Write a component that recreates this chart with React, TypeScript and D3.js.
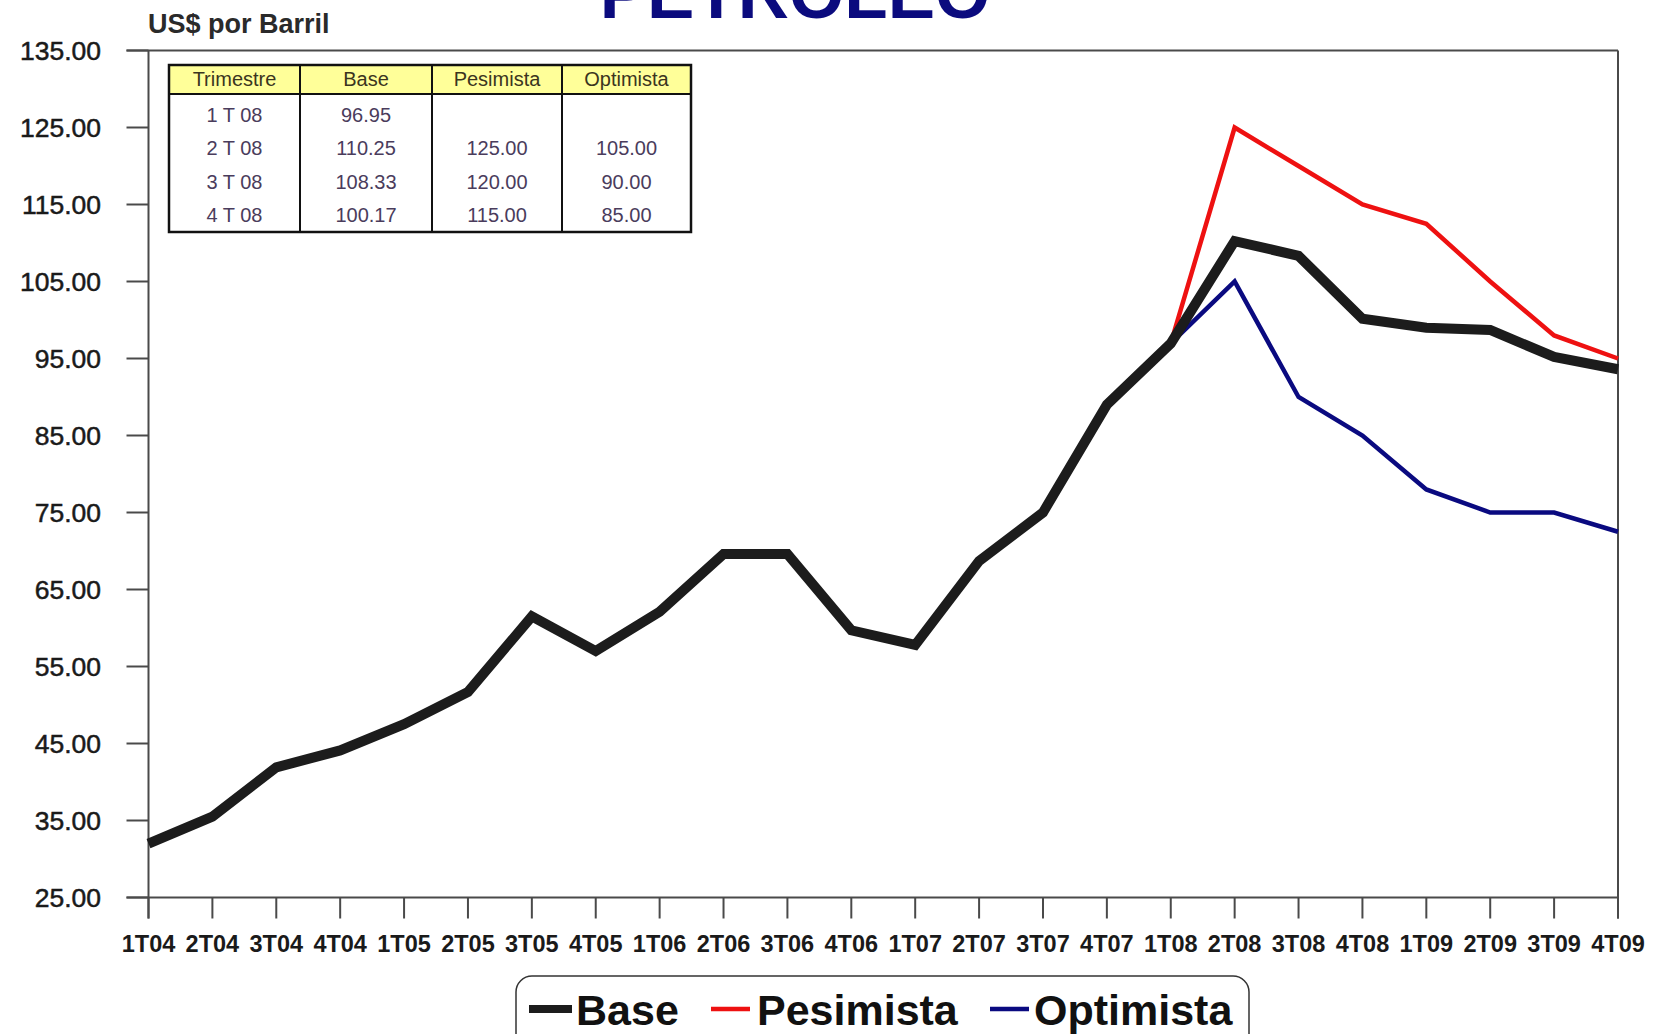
import React from "react";
import * as d3 from "d3";

const categories = ["1T04","2T04","3T04","4T04","1T05","2T05","3T05","4T05","1T06","2T06","3T06","4T06","1T07","2T07","3T07","4T07","1T08","2T08","3T08","4T08","1T09","2T09","3T09","4T09"];
const baseValues = [32.0, 35.5, 41.9, 44.1, 47.5, 51.7, 61.5, 57.0, 62.1, 69.6, 69.6, 59.7, 57.8, 68.7, 75.0, 89.0, 96.95, 110.25, 108.33, 100.17, 99.0, 98.7, 95.2, 93.6];
const pesimistaValues: (number | null)[] = [null,null,null,null,null,null,null,null,null,null,null,null,null,null,null,null, 96.95, 125.0, 120.0, 115.0, 112.5, 105.0, 98.0, 95.0];
const optimistaValues: (number | null)[] = [null,null,null,null,null,null,null,null,null,null,null,null,null,null,null,null, 96.95, 105.0, 90.0, 85.0, 78.0, 75.0, 75.0, 72.5];
const yTicks = [25, 35, 45, 55, 65, 75, 85, 95, 105, 115, 125, 135];

const tableHeader = ["Trimestre", "Base", "Pesimista", "Optimista"];
const tableRows = [
  ["1 T 08", "96.95", "", ""],
  ["2 T 08", "110.25", "125.00", "105.00"],
  ["3 T 08", "108.33", "120.00", "90.00"],
  ["4 T 08", "100.17", "115.00", "85.00"],
];

const FONT = "'Liberation Sans', Arial, sans-serif";

export default function App() {
  const W = 1660, H = 1034;
  const left = 148.5, right = 1618, top = 50.5, bottom = 897.5;
  const x = d3.scalePoint<string>().domain(categories).range([left, right]);
  const y = d3.scaleLinear().domain([25, 135]).range([bottom, top]);

  const line = d3.line<number | null>()
    .defined((d) => d !== null)
    .x((_, i) => x(categories[i]) as number)
    .y((d) => y(d as number));

  const axisColor = "#4a4a4a";

  const colX = [169, 300, 432, 562, 691];
  const tTop = 65, tHead = 94, tBottom = 232;
  const rowY = [115, 148, 182, 215];

  return (
    <svg width={W} height={H} style={{ position: "absolute", left: 0, top: 0, background: "#fff" }} fontFamily={FONT}>
      <rect x={0} y={0} width={W} height={H} fill="#fff" />
      <text x={795} y={18} textAnchor="middle" fontSize={71} fontWeight="bold" fill="#0b0b7e">PETROLEO</text>
      <text x={148} y={33} fontSize={27} fontWeight="bold" fill="#2a2a2a">US$ por Barril</text>

      <line x1={left} x2={left} y1={top} y2={bottom + 21} stroke={axisColor} strokeWidth={2} />
      <line x1={right} x2={right} y1={top} y2={bottom + 21} stroke={axisColor} strokeWidth={2} />
      {yTicks.map((t) => (
        <g key={t}>
          <line x1={left - 22} x2={left} y1={y(t)} y2={y(t)} stroke={axisColor} strokeWidth={2} />
          <text x={101} y={y(t) + 9} textAnchor="end" fontSize={26.5} fill="#1a1a1a" stroke="#1a1a1a" strokeWidth={0.5}>{t.toFixed(2)}</text>
        </g>
      ))}
      <line x1={left - 22} x2={right} y1={top} y2={top} stroke={axisColor} strokeWidth={2} />
      <line x1={left - 22} x2={right} y1={bottom} y2={bottom} stroke={axisColor} strokeWidth={2} />

      {categories.map((c) => (
        <g key={c}>
          <line x1={x(c)} x2={x(c)} y1={bottom} y2={bottom + 21} stroke={axisColor} strokeWidth={2} />
          <text x={x(c)} y={952} textAnchor="middle" fontSize={23.5} fontWeight="bold" fill="#1a1a1a">{c}</text>
        </g>
      ))}

      <rect x={colX[0]} y={tTop} width={colX[4] - colX[0]} height={tHead - tTop} fill="#ffff99" />
      <rect x={colX[0]} y={tTop} width={colX[4] - colX[0]} height={tBottom - tTop} fill="none" stroke="#111" strokeWidth={2.5} />
      <line x1={colX[0]} x2={colX[4]} y1={tHead} y2={tHead} stroke="#111" strokeWidth={2} />
      {colX.slice(1, 4).map((cx) => (
        <line key={cx} x1={cx} x2={cx} y1={tTop} y2={tBottom} stroke="#111" strokeWidth={2} />
      ))}
      {tableHeader.map((h, i) => (
        <text key={h} x={(colX[i] + colX[i + 1]) / 2} y={86} textAnchor="middle" fontSize={20} fill="#3b3520">{h}</text>
      ))}
      {tableRows.map((row, r) =>
        row.map((cell, i) => (
          <text key={r + "-" + i} x={(colX[i] + colX[i + 1]) / 2} y={rowY[r] + 7} textAnchor="middle" fontSize={20} fill="#4a3c5c">{cell}</text>
        ))
      )}

      <path d={line(pesimistaValues) || ""} fill="none" stroke="#ee1111" strokeWidth={4.5} strokeLinejoin="miter" />
      <path d={line(optimistaValues) || ""} fill="none" stroke="#0a0a80" strokeWidth={4.5} strokeLinejoin="miter" />
      <path d={line(baseValues) || ""} fill="none" stroke="#1c1c1c" strokeWidth={10} strokeLinejoin="miter" />

      <rect x={516} y={976} width={733} height={90} rx={16} ry={16} fill="#fff" stroke="#333" strokeWidth={1.5} />
      <line x1={529} x2={572} y1={1009} y2={1009} stroke="#1c1c1c" strokeWidth={8} />
      <text x={576} y={1025} fontSize={43} fontWeight="bold" fill="#111">Base</text>
      <line x1={711} x2={750} y1={1009} y2={1009} stroke="#ee1111" strokeWidth={4.5} />
      <text x={757} y={1025} fontSize={43} fontWeight="bold" fill="#111">Pesimista</text>
      <line x1={990} x2={1029} y1={1009} y2={1009} stroke="#0a0a80" strokeWidth={4.5} />
      <text x={1034} y={1025} fontSize={43} fontWeight="bold" fill="#111">Optimista</text>
    </svg>
  );
}
